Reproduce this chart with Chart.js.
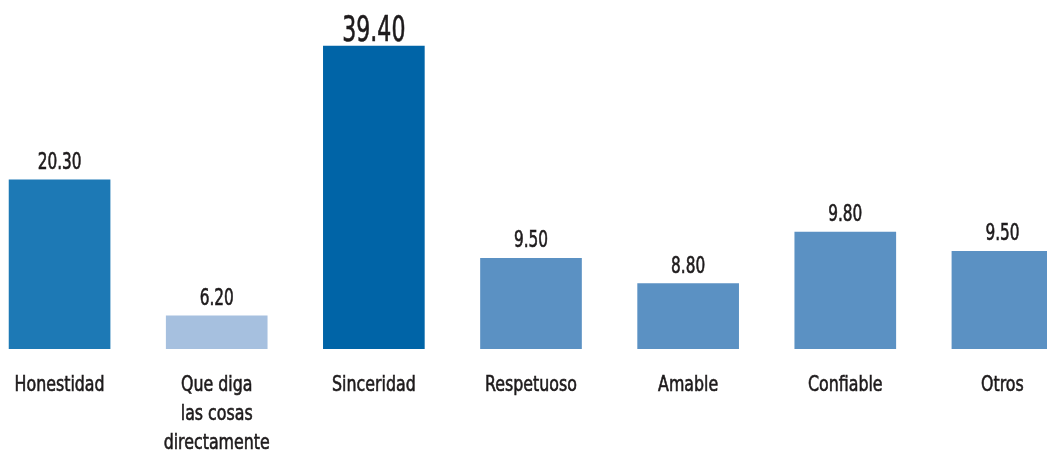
<!DOCTYPE html>
<html>
<head>
<meta charset="utf-8">
<title>Cualidades</title>
<script src="https://cdn.jsdelivr.net/npm/chart.js@4/dist/chart.umd.min.js"></script>
<style>
    html, body { margin: 0; padding: 0; background: #ffffff; overflow: hidden; }
    #wrap { position: absolute; left: -19px; top: 0; width: 1100px; height: 451px; }
</style>
</head>
<body>
<div id="wrap"><canvas id="chart"></canvas></div>
<script>
// Categories, one label line per array entry.
var categories = [
    ['Honestidad'],
    ['Que diga', 'las cosas', 'directamente'],
    ['Sinceridad'],
    ['Respetuoso'],
    ['Amable'],
    ['Confiable'],
    ['Otros']
];

// Values printed above the bars.
var printedValues = [20.30, 6.20, 39.40, 9.50, 8.80, 9.80, 9.50];

// Bar heights as drawn in the picture (same units, the source bars are not to scale).
var barHeights = [22.0, 4.3, 39.4, 11.8, 8.5, 15.2, 12.7];

var barColors = ['#1d79b5', '#a6c0df', '#0064a7', '#5b91c3', '#5b91c3', '#5b91c3', '#5b91c3'];

(function () {

    var FONT = '"DejaVu Sans Condensed", "DejaVu Sans", sans-serif';
    var INK = '#1e1b1c';

    /**
     * Writes a horizontally squeezed text, the source uses a very narrow, heavy face.
     */
    function narrowText(ctx, text, x, y, squeeze)
    {
        ctx.save();
        ctx.translate(x, y);
        ctx.scale(squeeze, 1);
        ctx.fillText(text, 0, 0);
        ctx.strokeText(text, 0, 0);
        ctx.restore();
    }

    /**
     * Draws the printed values on top of the bars and the category names under them.
     */
    var labelsPlugin = {
        id: 'barLabels',
        afterDatasetsDraw: function (chart) {
            var ctx, meta, index, bar, big, lines, line, baseY, top;

            ctx = chart.ctx;
            meta = chart.getDatasetMeta(0);
            baseY = chart.chartArea.bottom;
            top = Math.max.apply(null, printedValues);

            ctx.save();
            ctx.fillStyle = INK;
            ctx.strokeStyle = INK;
            ctx.lineWidth = 0.6;
            ctx.textAlign = 'center';
            ctx.textBaseline = 'alphabetic';

            for (index = 0; index < meta.data.length; index++) {
                bar = meta.data[index];

                // Value label, the biggest one is printed larger.
                big = printedValues[index] === top;
                ctx.font = (big ? '35px ' : '23px ') + FONT;
                narrowText(ctx, printedValues[index].toFixed(2), bar.x,
                    bar.y - (big ? 5 : 11), big ? 0.7 : 0.74);

                // Category label.
                lines = categories[index];
                ctx.font = '22px ' + FONT;
                for (line = 0; line < lines.length; line++) {
                    narrowText(ctx, lines[line], bar.x, baseY + 42 + line * 29, 0.8);
                }
            }

            ctx.restore();
        }
    };

    new Chart(document.getElementById('chart'), {
        type: 'bar',
        data: {
            labels: categories,
            datasets: [{
                data: barHeights,
                backgroundColor: barColors,
                borderWidth: 0,
                barThickness: 101
            }]
        },
        options: {
            responsive: true,
            maintainAspectRatio: false,
            animation: false,
            layout: { padding: { top: 0, bottom: 102, left: 0, right: 0 } },
            plugins: {
                legend: { display: false },
                tooltip: { enabled: false }
            },
            scales: {
                x: { display: false, offset: true },
                y: { display: false, min: 0, max: 45.4 }
            }
        },
        plugins: [labelsPlugin]
    });

})();
</script>
</body>
</html>
